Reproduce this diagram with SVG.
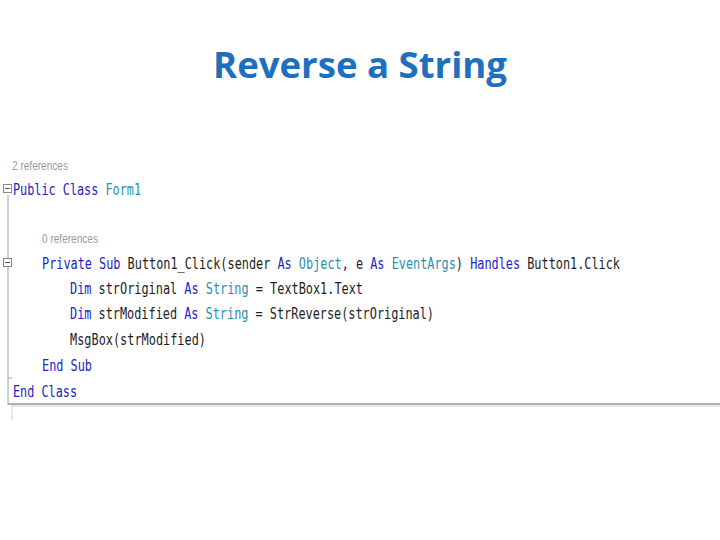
<svg xmlns="http://www.w3.org/2000/svg" width="720" height="540" viewBox="0 0 720 540">
<style>
.c{font-family:"DejaVu Sans Mono","Liberation Mono",monospace;font-size:15.5px;fill:#1e1e1e}
.k{fill:#2424c8}.t{fill:#2b91af}
.r{font-family:"Liberation Sans Narrow","Liberation Sans",sans-serif;font-size:12px;fill:#9a9a9a}
</style>
<rect width="720" height="540" fill="#fff"/>
<text x="360" y="78" text-anchor="middle" font-family="Open Sans, Liberation Sans, sans-serif" font-weight="bold" font-size="36" fill="#1f6fbf" textLength="294" lengthAdjust="spacingAndGlyphs">Reverse a String</text>
<g id="code">
<line x1="8" y1="195" x2="8" y2="405" stroke="#a0a0a0"/>
<line x1="8" y1="378" x2="12" y2="378" stroke="#a0a0a0"/>
<line x1="8" y1="404" x2="720" y2="404" stroke="#b0b0b0" stroke-width="2"/>
<line x1="12" y1="406" x2="720" y2="406" stroke="#e6e6e6" stroke-width="2"/>
<line x1="12" y1="406" x2="12" y2="420" stroke="#d0d0d0"/>
<rect x="3.5" y="184.5" width="8" height="8" fill="#fff" stroke="#888"/><line x1="5" y1="188.5" x2="10" y2="188.5" stroke="#555"/>
<rect x="3.5" y="258.5" width="8" height="8" fill="#fff" stroke="#888"/><line x1="5" y1="262.5" x2="10" y2="262.5" stroke="#555"/>
<text class="r" x="12" y="170" textLength="56" lengthAdjust="spacingAndGlyphs">2 references</text>
<text class="c" x="13" y="195" textLength="128" lengthAdjust="spacingAndGlyphs"><tspan class="k">Public Class </tspan><tspan class="t">Form1</tspan></text>
<text class="r" x="42" y="243" textLength="56" lengthAdjust="spacingAndGlyphs">0 references</text>
<text class="c" x="42" y="269" textLength="578" lengthAdjust="spacingAndGlyphs"><tspan class="k">Private Sub </tspan>Button1_Click(sender <tspan class="k">As </tspan><tspan class="t">Object</tspan>, e <tspan class="k">As </tspan><tspan class="t">EventArgs</tspan>) <tspan class="k">Handles </tspan>Button1.Click</text>
<text class="c" x="70" y="294" textLength="293" lengthAdjust="spacingAndGlyphs"><tspan class="k">Dim </tspan>strOriginal <tspan class="k">As </tspan><tspan class="t">String</tspan> = TextBox1.Text</text>
<text class="c" x="70" y="319" textLength="364" lengthAdjust="spacingAndGlyphs"><tspan class="k">Dim </tspan>strModified <tspan class="k">As </tspan><tspan class="t">String</tspan> = StrReverse(strOriginal)</text>
<text class="c" x="70" y="345" textLength="136" lengthAdjust="spacingAndGlyphs">MsgBox(strModified)</text>
<text class="c k" x="42" y="371" textLength="50" lengthAdjust="spacingAndGlyphs">End Sub</text>
<text class="c k" x="13" y="397" textLength="64" lengthAdjust="spacingAndGlyphs">End Class</text>
</g>
</svg>
